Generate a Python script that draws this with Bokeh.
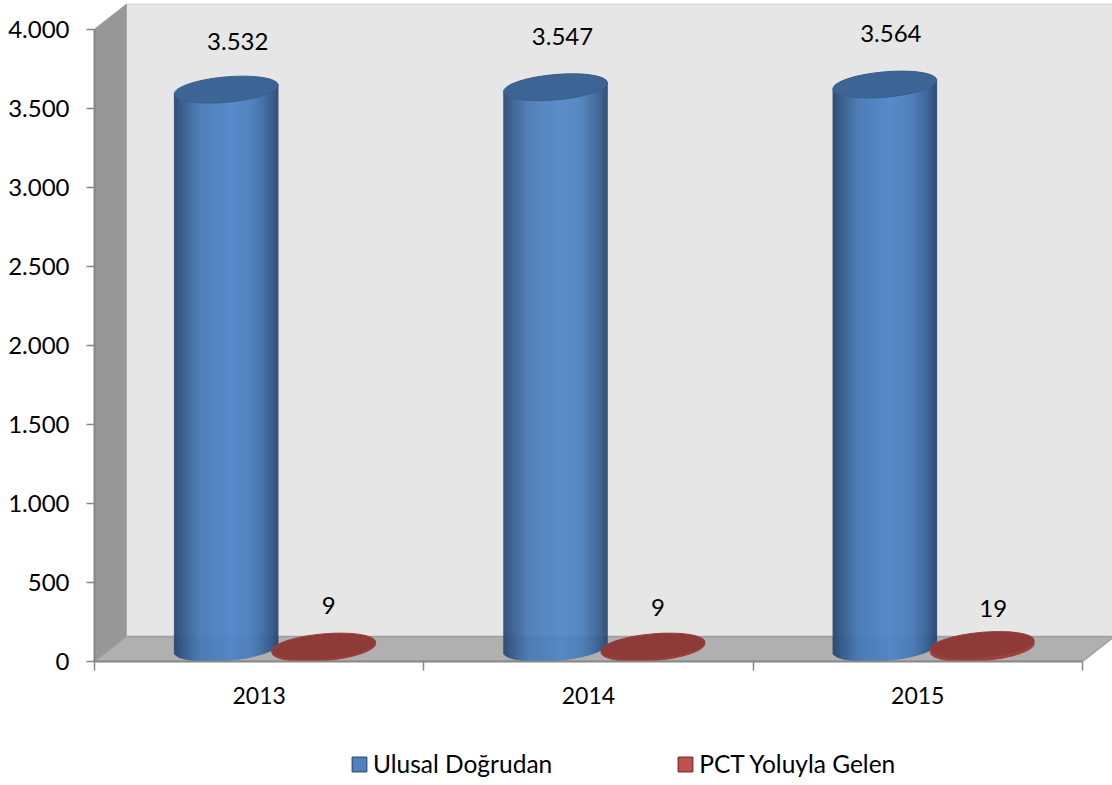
import math
from bokeh.core.properties import value as fixed
from bokeh.embed import file_html
from bokeh.layouts import column
from bokeh.models import FixedTicker, Legend, LegendItem, Range1d
from bokeh.plotting import figure
from bokeh.resources import INLINE

years = ["2013", "2014", "2015"]
ulusal = [3532, 3547, 3564]
pct = [9, 9, 19]
ulusal_labels = ["3.532", "3.547", "3.564"]
pct_labels = ["9", "9", "19"]
y_ticks = [0, 500, 1000, 1500, 2000, 2500, 3000, 3500, 4000]
y_tick_labels = ["0", "500", "1.000", "1.500", "2.000", "2.500", "3.000", "3.500", "4.000"]
series_names = ["Ulusal Doğrudan", "PCT Yoluyla Gelen"]

FONT = "Lato"
W, H, LEGEND_H = 1112, 735, 50
LEFT, BOTTOM = 94, 74
PX_X = 329.3        # px per category
PX_Y = 79.05 / 500  # px per value unit
DX, DY = 32 / PX_X, 25 / PX_Y   # 3-D depth in data units
BLUE_AT, RED_AT = 0.4, 0.696
XEXT, SLOPE, HALF = 52.0, 0.083, 12.7 * 52.2 / 52.0
CAP_LIFT = 13.5

p = figure(width=W, height=H, output_backend="svg", toolbar_location=None,
           x_range=Range1d(0, (W - LEFT) / PX_X), y_range=Range1d(0, (H - BOTTOM) / PX_Y),
           min_border_left=LEFT, min_border_right=0, min_border_top=0, min_border_bottom=BOTTOM,
           outline_line_color=None, background_fill_color="white")
p.grid.visible = False

x_end, y_end = 3, 4000
p.patch([DX, x_end + DX + 1, x_end + DX + 1, DX], [DY, DY, y_end + DY, y_end + DY],
        fill_color="#E6E6E6", line_color="#D4D4D4", line_width=1)
p.patch([0, DX, DX, 0], [0, DY, y_end + DY, y_end],
        fill_color="#979797", line_color="#A6A6A6", line_width=1)
p.patch([0, DX, x_end + DX, x_end], [0, DY, DY, 0],
        fill_color="#B0B0B0", line_color="#9E9E9E", line_width=1.5)

anchors = [(-1.0, (0x26, 0x45, 0x6C)), (-0.8, (0x33, 0x5D, 0x90)), (-0.5, (0x47, 0x79, 0xB5)),
           (0.1, (0x50, 0x85, 0xCA)), (0.5, (0x4A, 0x7D, 0xBB)), (0.8, (0x36, 0x62, 0x98)),
           (1.0, (0x26, 0x46, 0x6C))]


def shade(u):
    for (u0, c0), (u1, c1) in zip(anchors, anchors[1:]):
        if u <= u1:
            t = (u - u0) / (u1 - u0)
            return "#%02X%02X%02X" % tuple(round(a + (b - a) * t) for a, b in zip(c0, c1))
    return "#26466C"


lefts, rights, tops, bottoms, colors = [], [], [], [], []
for i, v in enumerate(ulusal):
    cx = i + BLUE_AT
    n = int(2 * XEXT)
    for k in range(n):
        dxa, dxb = -XEXT + k, -XEXT + k + 1
        mid = (dxa + dxb) / 2
        u = mid / XEXT
        lefts.append(cx + dxa / PX_X)
        rights.append(cx + dxb / PX_X)
        low = SLOPE * mid - HALF * math.sqrt(max(0, 1 - u * u))
        bottoms.append((CAP_LIFT + low) / PX_Y)
        tops.append(v + (CAP_LIFT + SLOPE * mid) / PX_Y)
        colors.append(shade(u))
p.quad(left=lefts, right=rights, top=tops, bottom=bottoms, fill_color=colors, line_color=colors, line_width=0.4)

ell = dict(width=104.4, height=25.4, width_units="screen", height_units="screen",
           angle=5.06, angle_units="deg")
lift = CAP_LIFT / PX_Y
xs_blue = [i + BLUE_AT for i in range(3)]
xs_red = [i + RED_AT for i in range(3)]
p.ellipse(x=xs_blue, y=[v + lift for v in ulusal], fill_color="#3C6595", line_color="#34608F", line_width=1, **ell)
p.ellipse(x=xs_red, y=[lift for _ in pct], fill_color="#A23F3C", line_color="#A23F3C", line_width=1, **ell)
p.ellipse(x=xs_red, y=[v + lift for v in pct], fill_color="#8E3A37", line_color="#96403C", line_width=1, **ell)

label_dx_blue = [11.5, 7, 6]
label_up_blue = [62, 64.5, 65]
label_dx_red = [5, 5, 11]
label_up_red = [55, 53, 50]
txt = dict(text_font=fixed(FONT), text_font_size="24px", text_color="#000000",
           text_align="center", text_baseline="middle")
p.text(x=xs_blue, y=ulusal, text=ulusal_labels, x_offset=label_dx_blue,
       y_offset=[-u for u in label_up_blue], **txt)
p.text(x=xs_red, y=pct, text=pct_labels, x_offset=label_dx_red,
       y_offset=[-u for u in label_up_red], **txt)

yax = p.yaxis[0]
yax.ticker = FixedTicker(ticks=y_ticks)
yax.major_label_overrides = dict(zip(y_ticks, y_tick_labels))
yax.bounds = (0, 4000)
yax.axis_line_color = "#868686"
yax.axis_line_width = 2
yax.major_tick_line_color = "#868686"
yax.major_tick_line_width = 1.5
yax.major_tick_out = 8
yax.major_tick_in = 0
yax.minor_tick_out = 0
yax.minor_tick_in = 0
yax.major_label_standoff = 17
yax.major_label_text_font = FONT
yax.major_label_text_font_size = "24px"
yax.major_label_text_color = "#000000"

xax = p.xaxis[0]
centers = [0.5, 1.5, 2.5]
xax.ticker = FixedTicker(ticks=centers, minor_ticks=[0, 1, 2, 3])
xax.major_label_overrides = dict(zip(centers, years))
xax.bounds = (0, 3)
xax.axis_line_color = "#868686"
xax.axis_line_width = 2
xax.major_tick_out = 0
xax.major_tick_in = 0
xax.minor_tick_out = 9
xax.minor_tick_in = 0
xax.minor_tick_line_color = "#868686"
xax.minor_tick_line_width = 1.5
xax.major_label_standoff = 16
xax.major_label_text_font = FONT
xax.major_label_text_font_size = "23px"
xax.major_label_text_color = "#000000"

q = figure(width=W, height=LEGEND_H, output_backend="svg", toolbar_location=None,
           x_range=Range1d(0, 1), y_range=Range1d(0, 1), x_axis_type=None, y_axis_type=None,
           min_border_left=0, min_border_right=0, min_border_top=0, min_border_bottom=0,
           outline_line_color=None, background_fill_color="white")
q.grid.visible = False
nan = float("nan")
r1 = q.quad(left=[nan], right=[nan], top=[nan], bottom=[nan], fill_color="#4F81BD", line_color="#385D8A", line_width=1.5)
r2 = q.quad(left=[nan], right=[nan], top=[nan], bottom=[nan], fill_color="#C0504D", line_color="#8C3836", line_width=1.5)
legend = Legend(items=[LegendItem(label=series_names[0], renderers=[r1]),
                       LegendItem(label=series_names[1], renderers=[r2])],
                orientation="horizontal", location=(256, 7), padding=0, margin=0, spacing=124,
                border_line_color=None, background_fill_alpha=0, glyph_width=18, glyph_height=18,
                label_standoff=5, label_text_font=FONT, label_text_font_size="24.5px",
                label_text_color="#000000")
q.add_layout(legend, "center")

layout = column(p, q, spacing=0)
open("out.html", "w").write(file_html(layout, INLINE))
